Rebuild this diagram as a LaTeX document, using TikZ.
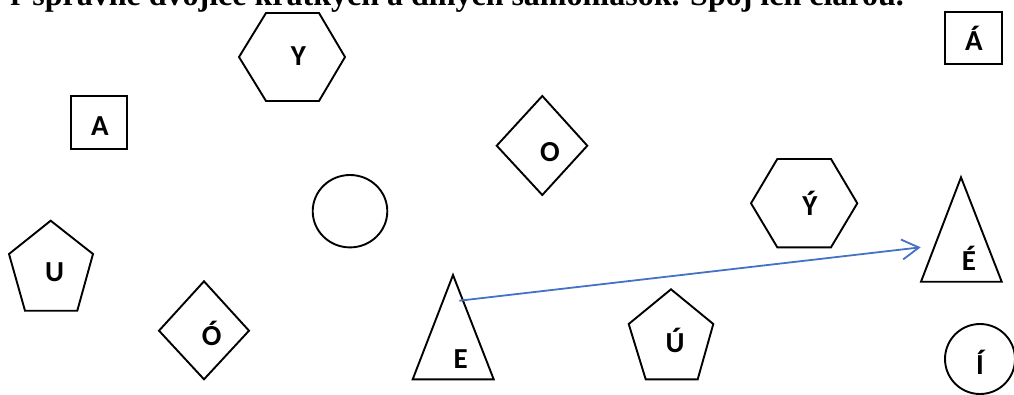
\documentclass[tikz,border=0pt]{standalone}
\usepackage{fontspec}
\setmainfont{Liberation Serif}
\newfontfamily\labfont{Carlito}
\usetikzlibrary{arrows.meta}
\definecolor{lineblue}{HTML}{4472C4}
\begin{document}
\begin{tikzpicture}[x=1pt,y=-1pt,
  shp/.style={draw=black,line width=1.9pt,line join=miter},
  lab/.style={inner sep=0pt,anchor=base,font=\labfont\bfseries\fontsize{29}{33}\selectfont},
  conn/.style={draw=lineblue,line width=1.8pt,-{Straight Barb[length=17pt,width=20pt]}}]
\clip (0,0) rectangle (1014,394);
% title (clipped at top)
\node[anchor=base west,inner sep=0pt,font=\bfseries\fontsize{32}{38}\selectfont] (title) at (10,5)
  {r správne dvojice krátkych a dlhých samohlások. Spoj ich čiarou.};
% shapes
\draw[shp] (239,57) -- (266,13) -- (319,13) -- (345,57) -- (319,101) -- (266,101) -- cycle; % Y
\draw[shp] (70.7,96) rectangle (127.3,149); % A
\draw[shp] (945,11.7) rectangle (1001.7,64); % Á
\draw[shp] (350,211.2) ellipse [x radius=37.3, y radius=36.2]; % empty circle
\draw[shp] (50.7,220.7) -- (93,254) -- (77.3,310.7) -- (25,310.7) -- (9,254) -- cycle; % U
\draw[shp] (204,281.3) -- (249,330.7) -- (204,379.3) -- (159,330.7) -- cycle; % Ó
\draw[shp] (542.3,96) -- (587.3,145.7) -- (542.3,195) -- (496.7,145.7) -- cycle; % O
\draw[shp] (453,275) -- (493.7,379.3) -- (412.7,379.3) -- cycle; % E
\draw[shp] (671,289.3) -- (713.3,324) -- (697.7,379.3) -- (645.7,379.3) -- (628.7,324) -- cycle; % Ú
\draw[shp] (751,203.3) -- (777.3,159) -- (831,159) -- (857.3,203.3) -- (831,247.3) -- (777.3,247.3) -- cycle; % Ý
\draw[shp] (961,177.3) -- (1001.7,281.7) -- (921,281.7) -- cycle; % É
\draw[shp] (980,359) circle [radius=35]; % Í
% labels
\node[lab] (lY) at (298.3,65.5) {Y};
\node[lab] (lA) at (100,135) {A};
\node[lab] (lAa) at (974,50) {Á};
\node[lab] (lU) at (54.5,281) {U};
\node[lab] (lOo) at (211.7,345.5) {Ó};
\node[lab] (lO) at (550,161) {O};
\node[lab] (lE) at (460.8,368) {E};
\node[lab] (lUu) at (675,352) {Ú};
\node[lab] (lYy) at (810,215.3) {Ý};
\node[lab] (lEe) at (969,270) {É};
\node[lab] (lIi) at (980,374) {Í};
% connector
\coordinate (es) at (459.3,300.7);
\coordinate (ee) at (920.7,247.3);
\draw[conn] (es) -- (ee);
\end{tikzpicture}
\end{document}
